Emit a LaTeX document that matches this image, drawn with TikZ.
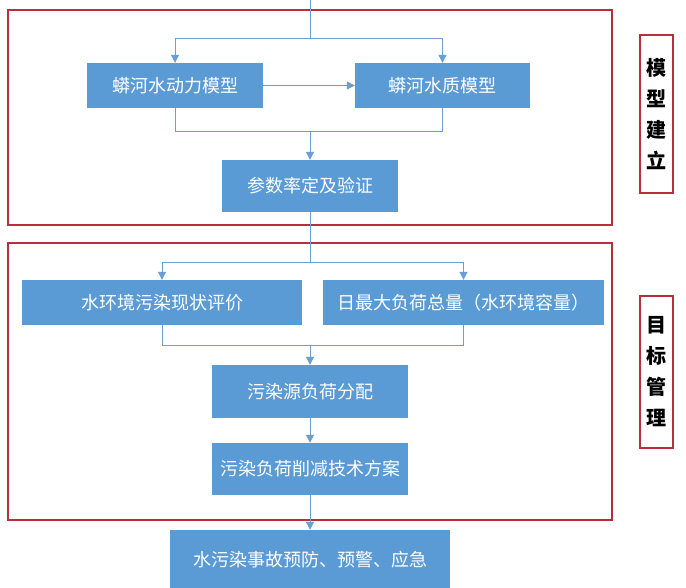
\documentclass[tikz,border=0pt]{standalone}
\usepackage{fontspec}
\newfontfamily\cjk{Noto Sans CJK SC}
\usetikzlibrary{arrows.meta,positioning}
\definecolor{boxblue}{HTML}{5B9BD5}
\definecolor{lineblue}{HTML}{6A9FD3}
\definecolor{frame}{HTML}{B5303A}
\begin{document}
\begin{tikzpicture}[x=1pt,y=-1pt,
  stepbox/.style={draw=none,fill=boxblue,text=white,font=\cjk\fontsize{18}{20}\selectfont,anchor=center,inner sep=0pt},
  conn/.style={draw=lineblue,line width=1pt},
  arr/.style={conn,-{Triangle[length=8pt,width=8pt]}},
  redframe/.style={draw=frame,line width=1.6pt},
  sidelbl/.style={draw=frame,line width=1.6pt,font=\cjk\bfseries\fontsize{20}{31}\selectfont,align=center,inner sep=0pt,minimum width=33pt}]
\useasboundingbox (0,0) rectangle (686,587);
\fill[white] (0,0) rectangle (686,587);
% frames
\node[redframe,minimum width=604pt,minimum height=215pt,inner sep=0pt] (f1) at (310,117.5) {};
\node[redframe,minimum width=604pt,minimum height=277pt,inner sep=0pt] (f2) at (310,381.5) {};
\node[sidelbl,minimum height=158pt] (s1) at (656.5,114) {模\\型\\建\\立};
\node[sidelbl,minimum height=152pt] (s2) at (656.5,372) {目\\标\\管\\理};
% boxes
\node[stepbox,minimum width=176pt,minimum height=45pt] (hyd) at (175,85.5) {蟒河水动力模型};
\node[stepbox,minimum width=175pt,minimum height=45pt] (qual) at (442.5,85.5) {蟒河水质模型};
\node[stepbox,minimum width=176pt,minimum height=52pt] (par) at (310,186) {参数率定及验证};
\node[stepbox,minimum width=280pt,minimum height=45pt] (cur) at (162,302.5) {水环境污染现状评价};
\node[stepbox,minimum width=281pt,minimum height=45pt] (tmdl) at (463.5,302.5) {日最大负荷总量（水环境容量）};
\node[stepbox,minimum width=196pt,minimum height=53pt] (alloc) at (310,391.5) {污染源负荷分配};
\node[stepbox,minimum width=196pt,minimum height=52pt] (red) at (310,469) {污染负荷削减技术方案};
\node[stepbox,minimum width=280pt,minimum height=60pt] (emg) at (310,560) {水污染事故预防、预警、应急};
% connectors
\coordinate (top) at (310,0);
\coordinate (j1) at (310,38);
\coordinate (j2) at (310,131);
\coordinate (j3) at (310,262);
\coordinate (j4) at (310,345);
\draw[conn] (top) -- (j1);
\draw[arr] (j1) -| (hyd.north);
\draw[arr] (j1) -| (qual.north);
\draw[arr] (hyd.east) -- (qual.west);
\draw[conn] (hyd.south) |- (j2);
\draw[conn] (qual.south) |- (j2);
\draw[arr] (j2) -- (par.north);
\draw[conn] (par.south) -- (j3);
\draw[arr] (j3) -| (cur.north);
\draw[arr] (j3) -| (tmdl.north);
\draw[conn] (cur.south) |- (j4);
\draw[conn] (tmdl.south) |- (j4);
\draw[arr] (j4) -- (alloc.north);
\draw[arr] (alloc.south) -- (red.north);
\draw[arr] (red.south) -- (emg.north);
\end{tikzpicture}
\end{document}
